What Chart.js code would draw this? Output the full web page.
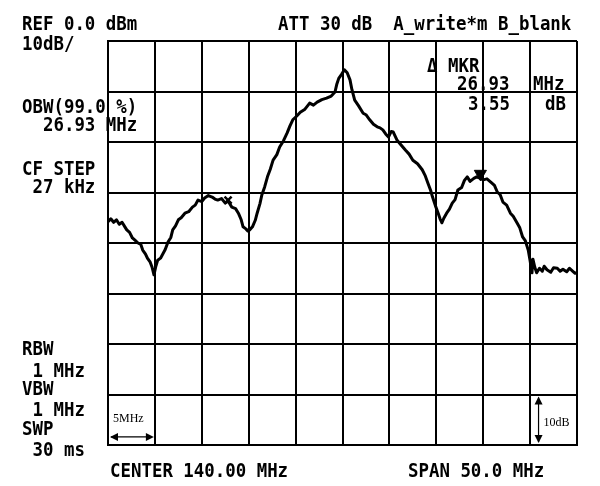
<!DOCTYPE html>
<html>
<head>
<meta charset="utf-8">
<script src="https://cdn.jsdelivr.net/npm/chart.js@4.4.1/dist/chart.umd.min.js"></script>
<style>
html,body{margin:0;padding:0;background:#fff;}
canvas{display:block;}
</style>
</head>
<body>
<canvas id="c" width="600" height="486"></canvas>
<script>
// Frequency axis (MHz) and trace level (dBm)
const freqMHz = [115.0,115.3,115.6,115.9,116.2,116.5,116.8,117.0,117.3,117.6,117.9,118.2,118.5,118.7,119.0,119.2,119.5,119.7,119.9,120.1,120.3,120.6,120.9,121.1,121.4,121.7,121.9,122.2,122.5,122.8,123.2,123.6,124.0,124.3,124.6,125.0,125.3,125.7,126.1,126.4,126.7,127.1,127.5,127.8,128.2,128.6,128.9,129.2,129.4,129.7,129.9,130.1,130.4,130.7,130.9,131.2,131.4,131.7,132.0,132.3,132.6,133.0,133.3,133.7,134.1,134.4,134.7,135.1,135.5,136.0,136.5,136.9,137.3,137.8,138.3,138.8,139.2,139.4,139.6,139.9,140.2,140.5,140.8,141.0,141.3,141.7,142.2,142.5,142.9,143.3,143.7,144.0,144.3,144.6,144.9,145.2,145.4,145.6,145.8,146.2,146.7,147.1,147.5,148.0,148.5,148.8,149.1,149.4,149.6,149.9,150.2,150.4,150.6,150.8,151.1,151.4,151.7,152.0,152.3,152.7,153.0,153.3,153.6,154.0,154.3,154.7,155.0,155.4,155.9,156.2,156.5,156.8,157.1,157.5,157.9,158.2,158.6,158.9,159.2,159.5,159.8,160.0,160.2,160.3,160.5,160.7,161.0,161.3,161.5,161.8,162.2,162.5,162.9,163.2,163.5,163.9,164.2,164.5,164.8,165.0];
const levelDBm = [-35.8,-35.2,-35.9,-35.4,-36.3,-35.9,-36.8,-37.4,-37.9,-39.0,-39.5,-40.0,-40.3,-41.4,-42.2,-43.0,-43.8,-44.8,-46.3,-44.6,-43.4,-43.0,-42.0,-41.3,-39.8,-38.9,-37.4,-36.6,-35.4,-35.0,-34.1,-33.8,-32.9,-32.5,-31.5,-31.8,-31.1,-30.6,-30.9,-31.3,-31.5,-31.2,-32.1,-31.7,-32.9,-33.2,-34.1,-35.4,-36.8,-37.2,-37.6,-37.4,-36.8,-35.5,-34.1,-32.2,-30.5,-28.9,-26.9,-25.4,-23.6,-22.5,-21.0,-19.8,-18.2,-16.8,-15.6,-14.9,-14.1,-13.5,-12.3,-12.7,-12.1,-11.6,-11.3,-10.9,-10.1,-8.5,-7.4,-6.6,-5.7,-6.3,-7.7,-9.6,-11.7,-12.8,-14.3,-14.6,-15.6,-16.5,-17.0,-17.2,-17.6,-18.4,-19.0,-17.9,-18.0,-18.8,-19.6,-20.5,-21.6,-22.4,-23.6,-24.3,-25.5,-26.6,-28.1,-29.6,-30.9,-32.6,-34.1,-35.2,-36.0,-35.1,-34.1,-33.3,-32.1,-31.4,-29.5,-29.0,-27.6,-26.9,-27.8,-27.2,-26.9,-27.2,-27.5,-27.3,-28.1,-28.6,-29.9,-30.4,-31.9,-32.5,-34.1,-34.7,-36.0,-37.0,-38.8,-39.6,-41.4,-43.5,-45.9,-43.2,-44.8,-45.9,-45.0,-45.6,-44.6,-45.3,-45.8,-44.9,-45.0,-45.6,-45.2,-45.7,-45.0,-45.5,-46.0,-45.9];

// Markers
const marker1 = {freq: 127.8, level: -31.5};
const deltaMarker = {freq: 154.7, level: -26.3};

// Axis settings
const startMHz = 115, stopMHz = 165, freqStep = 5;
const refDBm = 0, bottomDBm = -80, dbStep = 10;

// Annotation texts
const headerLeft = ['REF 0.0 dBm', '10dB/'];
const headerRight = 'ATT 30 dB  A_write*m B_blank';
const sideTop = ['OBW(99.0 %)', '  26.93 MHz', 'CF STEP', ' 27 kHz'];
const sideBottom = ['RBW', ' 1 MHz', 'VBW', ' 1 MHz', 'SWP', ' 30 ms'];
const mkrTexts = ['Δ MKR', '26.93', 'MHz', '3.55', 'dB'];
const footerLeft = 'CENTER 140.00 MHz';
const footerRight = 'SPAN 50.0 MHz';
const divLabels = ['5MHz', '10dB'];

const trace = freqMHz.map((f, i) => ({x: f, y: levelDBm[i]}));

function monoText(ctx, s, x, y, size) {
  ctx.save();
  ctx.font = 'bold ' + (size || 20) + 'px "DejaVu Sans Mono"';
  ctx.fillStyle = '#000';
  ctx.textBaseline = 'alphabetic';
  ctx.translate(x, y);
  ctx.scale(0.87, 1);
  ctx.fillText(s, 0, 0);
  ctx.restore();
}

function arrowHead(ctx, x, y, dir) {
  ctx.beginPath();
  if (dir === 'left') { ctx.moveTo(x, y); ctx.lineTo(x + 8, y - 4); ctx.lineTo(x + 8, y + 4); }
  if (dir === 'right') { ctx.moveTo(x, y); ctx.lineTo(x - 8, y - 4); ctx.lineTo(x - 8, y + 4); }
  if (dir === 'up') { ctx.moveTo(x, y); ctx.lineTo(x - 4, y + 8); ctx.lineTo(x + 4, y + 8); }
  if (dir === 'down') { ctx.moveTo(x, y); ctx.lineTo(x - 4, y - 8); ctx.lineTo(x + 4, y - 8); }
  ctx.closePath();
  ctx.fill();
}

const textPlugin = {
  id: 'saText',
  afterDraw(chart) {
    const ctx = chart.ctx;
    const xs = chart.scales.x, ys = chart.scales.y;
    monoText(ctx, headerLeft[0], 22, 30);
    monoText(ctx, headerLeft[1], 22, 50);
    monoText(ctx, headerRight, 278, 30);
    monoText(ctx, sideTop[0], 22, 113);
    monoText(ctx, sideTop[1], 22, 131);
    monoText(ctx, sideTop[2], 22, 175);
    monoText(ctx, sideTop[3], 22, 193);
    const by = [355, 377, 395, 416, 435, 456];
    sideBottom.forEach((s, i) => monoText(ctx, s, 22, by[i]));
    monoText(ctx, mkrTexts[0], 427, 72);
    monoText(ctx, mkrTexts[1], 457, 90);
    monoText(ctx, mkrTexts[2], 533, 90);
    monoText(ctx, mkrTexts[3], 468, 110);
    monoText(ctx, mkrTexts[4], 545, 110);
    monoText(ctx, footerLeft, 110, 477);
    monoText(ctx, footerRight, 408, 477);

    // division annotations
    ctx.save();
    ctx.fillStyle = '#000';
    ctx.strokeStyle = '#000';
    ctx.lineWidth = 1.2;
    ctx.font = '12px "Liberation Serif"';
    const x0 = xs.getPixelForValue(startMHz), x1 = xs.getPixelForValue(startMHz + freqStep);
    const yArrow = ys.getPixelForValue(bottomDBm + 1.6);
    ctx.fillText(divLabels[0], x0 + 5, ys.getPixelForValue(bottomDBm + 4.6));
    ctx.beginPath(); ctx.moveTo(x0 + 3, yArrow); ctx.lineTo(x1 - 3, yArrow); ctx.stroke();
    arrowHead(ctx, x0 + 2, yArrow, 'left');
    arrowHead(ctx, x1 - 1, yArrow, 'right');
    const xa = xs.getPixelForValue(stopMHz - 4.1);
    const y0 = ys.getPixelForValue(bottomDBm + dbStep), y1 = ys.getPixelForValue(bottomDBm);
    ctx.beginPath(); ctx.moveTo(xa, y0 + 3); ctx.lineTo(xa, y1 - 3); ctx.stroke();
    arrowHead(ctx, xa, y0 + 2, 'up');
    arrowHead(ctx, xa, y1 - 2, 'down');
    ctx.fillText(divLabels[1], xa + 5, ys.getPixelForValue(bottomDBm + 3.7));
    ctx.restore();
  }
};

new Chart(document.getElementById('c'), {
  type: 'line',
  data: {
    datasets: [
      {
        data: trace,
        borderColor: '#000',
        borderWidth: 3,
        pointRadius: 0,
        tension: 0,
        borderJoinStyle: 'round',
        fill: false
      },
      {
        data: [{x: marker1.freq, y: marker1.level}],
        showLine: false,
        pointStyle: 'crossRot',
        pointRadius: 5,
        borderColor: '#000',
        borderWidth: 2.5,
        backgroundColor: '#000'
      },
      {
        data: [{x: deltaMarker.freq, y: deltaMarker.level}],
        showLine: false,
        pointStyle: 'triangle',
        rotation: 180,
        pointRadius: 7,
        borderColor: '#000',
        borderWidth: 1,
        backgroundColor: '#000'
      }
    ]
  },
  options: {
    responsive: false,
    animation: false,
    events: [],
    layout: {padding: {left: 108, right: 23, top: 41, bottom: 41}},
    plugins: {legend: {display: false}, tooltip: {enabled: false}},
    scales: {
      x: {
        type: 'linear',
        min: startMHz, max: stopMHz,
        ticks: {display: false, stepSize: freqStep},
        grid: {color: '#000', lineWidth: 2, drawTicks: false},
        border: {color: '#000', width: 2}
      },
      y: {
        type: 'linear',
        min: bottomDBm, max: refDBm,
        ticks: {display: false, stepSize: dbStep},
        grid: {color: '#000', lineWidth: 2, drawTicks: false},
        border: {color: '#000', width: 2}
      }
    }
  },
  plugins: [textPlugin]
});
</script>
</body>
</html>
